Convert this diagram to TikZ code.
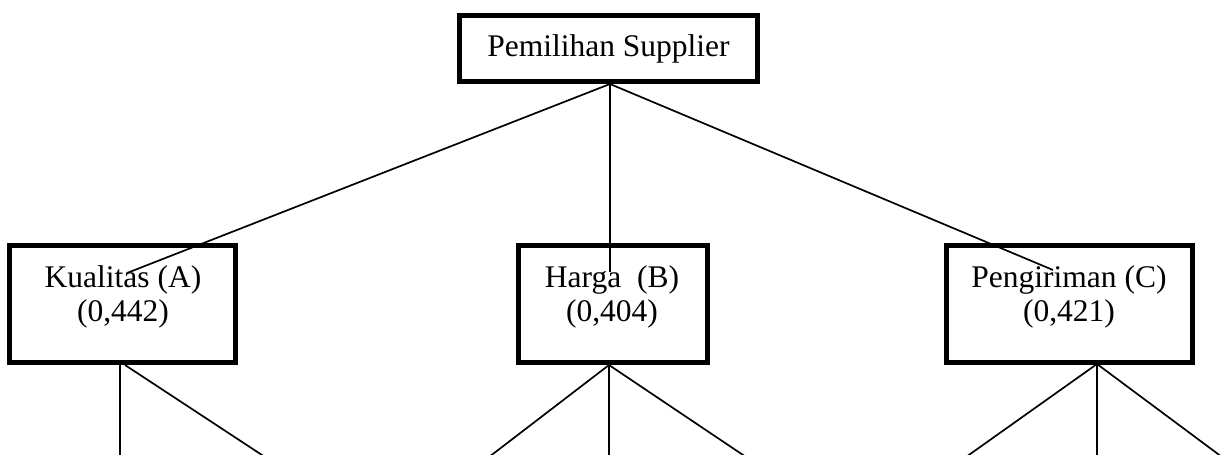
\documentclass[tikz,border=0pt]{standalone}
\usepackage{fontspec}
\setmainfont{Liberation Serif}
\begin{document}
\begin{tikzpicture}[x=1pt,y=-1pt,
  box/.style={draw, line width=5pt, inner sep=0pt, minimum height=117pt, minimum width=#1},
  lbl/.style={font=\fontsize{31.5}{34.5}\selectfont, align=center, inner sep=0pt},
  conn/.style={line width=1.7pt}]
\useasboundingbox[fill=white] (0,0) rectangle (1224,455);
% boxes
\node[box=298pt, minimum height=66pt, lbl] (top) at (608.5,48.5) {Pemilihan Supplier};
\node[box=226pt] (A) at (122.5,304) {};
\node[lbl] (At) at (123,297) {Kualitas (A)\\(0,442)};
\node[box=189pt] (B) at (613,304) {};
\node[lbl] (Bt) at (612,297) {Harga\ \ (B)\\(0,404)};
\node[box=246pt] (C) at (1069.5,304) {};
\node[lbl] (Ct) at (1069,297) {Pengiriman (C)\\(0,421)};
% connector ends
\coordinate (ts) at (610,84);
\coordinate (aIn) at (127,273);
\coordinate (bIn) at (610,272);
\coordinate (cIn) at (1053,270);
\draw[conn] (ts) -- (aIn);
\draw[conn] (ts) -- (bIn);
\draw[conn] (ts) -- (cIn);
% below Kualitas
\coordinate (aV) at (120,365);
\coordinate (aD) at (125,365);
\coordinate (a1) at (120,457);
\coordinate (a2) at (265,457);
\draw[conn] (aV) -- (a1);
\draw[conn] (aD) -- (a2);
% below Harga
\coordinate (bA) at (609,365);
\coordinate (b1) at (489,457);
\coordinate (b2) at (609,457);
\coordinate (b3) at (746,457);
\draw[conn] (bA) -- (b1);
\draw[conn] (bA) -- (b2);
\draw[conn] (bA) -- (b3);
% below Pengiriman
\coordinate (cA) at (1097,364);
\coordinate (c1) at (966,457);
\coordinate (c2) at (1097,457);
\coordinate (c3) at (1222,457);
\draw[conn] (cA) -- (c1);
\draw[conn] (cA) -- (c2);
\draw[conn] (cA) -- (c3);
\end{tikzpicture}
\end{document}
